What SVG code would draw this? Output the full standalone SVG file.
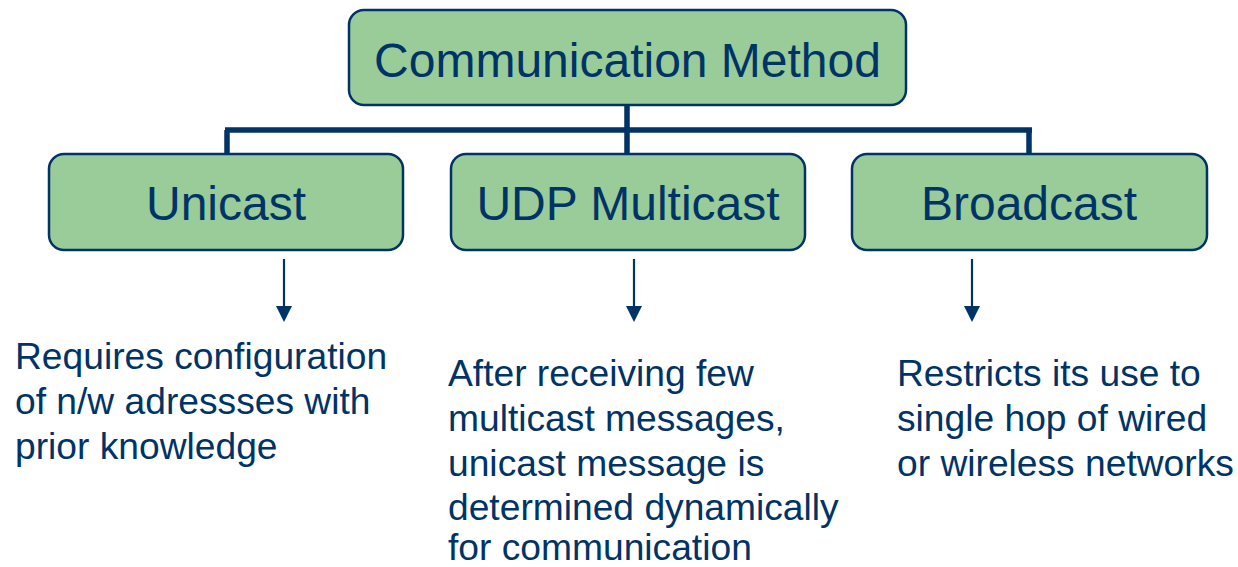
<svg xmlns="http://www.w3.org/2000/svg" width="1238" height="567" viewBox="0 0 1238 567">
<defs>
<style>
.box{fill:#99cc99;stroke:#003366;stroke-width:2.5}
.lbl{font-family:"Liberation Sans",Arial,sans-serif;fill:#003366;text-anchor:middle;font-size:48px}
.desc{font-family:"Liberation Sans",Arial,sans-serif;fill:#003366;font-size:37.2px}
.tree{stroke:#003366;stroke-width:5.5;fill:none}
.arr{stroke:#003366;stroke-width:2.2;fill:none}
</style>
</defs>
<rect width="1238" height="567" fill="#ffffff"/>
<g id="connectors">
<path class="tree" d="M627,105 V153 M225,130 H1032 M227,130 V153 M1029,130 V153"/>
<line class="arr" x1="284" y1="259" x2="284" y2="307"/>
<polygon points="276,306 292,306 284,322" fill="#003366"/>
<line class="arr" x1="634" y1="259" x2="634" y2="307"/>
<polygon points="626,306 642,306 634,322" fill="#003366"/>
<line class="arr" x1="972" y1="259" x2="972" y2="307"/>
<polygon points="964,306 980,306 972,322" fill="#003366"/>
</g>
<g id="root">
<rect class="box" x="349" y="10" width="557" height="95" rx="15"/>
<text class="lbl" x="627.5" y="77" font-size="49">Communication Method</text>
</g>
<g id="unicast">
<rect class="box" x="49" y="154" width="354" height="96" rx="15"/>
<text class="lbl" x="226" y="220">Unicast</text>
</g>
<g id="multicast">
<rect class="box" x="451" y="154" width="354" height="96" rx="15"/>
<text class="lbl" x="628" y="220">UDP Multicast</text>
</g>
<g id="broadcast">
<rect class="box" x="852" y="154" width="355" height="96" rx="15"/>
<text class="lbl" x="1029" y="220">Broadcast</text>
</g>
<g id="unicast-desc">
<text class="desc" x="15" y="369">Requires configuration</text>
<text class="desc" x="15" y="414">of n/w adressses with</text>
<text class="desc" x="15" y="459">prior knowledge</text>
</g>
<g id="multicast-desc">
<text class="desc" x="448" y="386">After receiving few</text>
<text class="desc" x="448" y="431">multicast messages,</text>
<text class="desc" x="448" y="476">unicast message is</text>
<text class="desc" x="448" y="520">determined dynamically</text>
<text class="desc" x="448" y="560">for communication</text>
</g>
<g id="broadcast-desc">
<text class="desc" x="897" y="386">Restricts its use to</text>
<text class="desc" x="897" y="431">single hop of wired</text>
<text class="desc" x="897" y="476">or wireless networks</text>
</g>
</svg>
